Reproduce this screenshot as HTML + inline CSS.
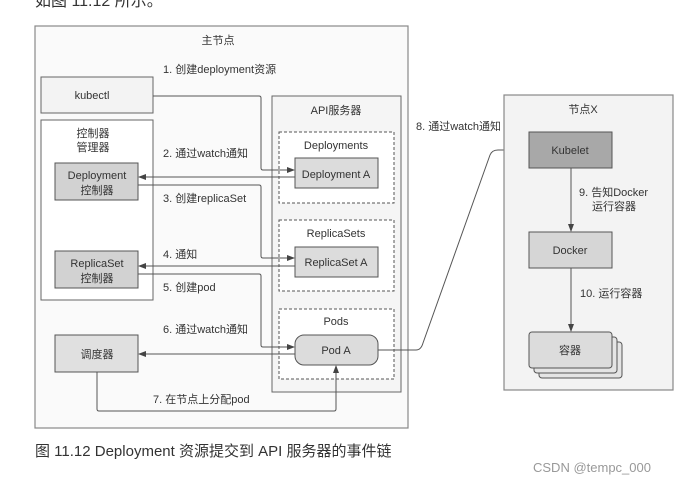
<!DOCTYPE html>
<html><head><meta charset="utf-8"><style>
html,body{margin:0;padding:0;background:#fff}
svg{display:block}
text{font-family:"Liberation Sans","Noto Sans CJK SC",sans-serif;fill:#333}
</style></head><body>
<svg width="678" height="484" viewBox="0 0 678 484" xmlns="http://www.w3.org/2000/svg">
<defs><marker id="a" markerWidth="8" markerHeight="6" refX="7" refY="3" orient="auto" markerUnits="userSpaceOnUse"><path d="M0,0 L8,3 L0,6 z" fill="#444"/></marker></defs>
<text x="35" y="6" font-size="16" font-family="Liberation Serif,Noto Serif CJK SC,serif">如图 11.12 所示。</text>
<rect x="35" y="26" width="373" height="402" fill="#fafafa" stroke="#888" stroke-width="1.2"/>
<text x="218" y="44" font-size="11" text-anchor="middle">主节点</text>
<text x="163" y="73" font-size="11">1. 创建deployment资源</text>
<rect x="41" y="77" width="112" height="36" fill="#f3f3f3" stroke="#666"/>
<text x="92" y="99" font-size="11" text-anchor="middle">kubectl</text>
<rect x="41" y="120" width="112" height="180" fill="#fff" stroke="#666"/>
<text x="93" y="137" font-size="11" text-anchor="middle">控制器</text>
<text x="93" y="151" font-size="11" text-anchor="middle">管理器</text>
<rect x="55" y="163" width="83" height="37" fill="#d2d2d2" stroke="#555"/>
<text x="97" y="179" font-size="11" text-anchor="middle">Deployment</text>
<text x="97" y="194" font-size="11" text-anchor="middle">控制器</text>
<rect x="55" y="251" width="83" height="37" fill="#d2d2d2" stroke="#555"/>
<text x="97" y="267" font-size="11" text-anchor="middle">ReplicaSet</text>
<text x="97" y="282" font-size="11" text-anchor="middle">控制器</text>
<rect x="55" y="335" width="83" height="37" fill="#e0e0e0" stroke="#555"/>
<text x="97" y="358" font-size="11" text-anchor="middle">调度器</text>
<rect x="272" y="96" width="129" height="296" fill="#f5f5f5" stroke="#666"/>
<text x="336" y="114" font-size="11" text-anchor="middle">API服务器</text>
<rect x="279" y="132" width="115" height="71" fill="#fff" stroke="#555" stroke-dasharray="3,2"/>
<text x="336" y="149" font-size="11" text-anchor="middle">Deployments</text>
<rect x="295" y="158" width="83" height="30" fill="#dcdcdc" stroke="#555"/>
<text x="336" y="178" font-size="11" text-anchor="middle">Deployment A</text>
<rect x="279" y="220" width="115" height="71" fill="#fff" stroke="#555" stroke-dasharray="3,2"/>
<text x="336" y="237" font-size="11" text-anchor="middle">ReplicaSets</text>
<rect x="295" y="247" width="83" height="30" fill="#dcdcdc" stroke="#555"/>
<text x="336" y="266" font-size="11" text-anchor="middle">ReplicaSet A</text>
<rect x="279" y="309" width="115" height="70" fill="#fff" stroke="#555" stroke-dasharray="3,2"/>
<text x="336" y="325" font-size="11" text-anchor="middle">Pods</text>
<rect x="295" y="335" width="83" height="30" rx="9" fill="#dcdcdc" stroke="#555"/>
<text x="336" y="354" font-size="11" text-anchor="middle">Pod A</text>
<g fill="none" stroke="#555" stroke-width="1">
<path d="M153,96 H259 Q261,96 261,98 V168 Q261,170 263,170 H294" marker-end="url(#a)"/>
<path d="M295,177 H139" marker-end="url(#a)"/>
<path d="M138,185 H259 Q261,185 261,187 V256 Q261,258 263,258 H294" marker-end="url(#a)"/>
<path d="M295,266 H139" marker-end="url(#a)"/>
<path d="M138,274 H259 Q261,274 261,276 V345 Q261,347 263,347 H294" marker-end="url(#a)"/>
<path d="M295,354 H139" marker-end="url(#a)"/>
<path d="M97,372 V409 Q97,411 99,411 H334 Q336,411 336,409 V366" marker-end="url(#a)"/>
<path d="M378,350 H416 Q421,350 423,343 L490,155 Q492,150 498,150 H528" marker-end="url(#a)"/>
</g>
<text x="163" y="157" font-size="11">2. 通过watch通知</text>
<text x="163" y="202" font-size="11">3. 创建replicaSet</text>
<text x="163" y="258" font-size="11">4. 通知</text>
<text x="163" y="291" font-size="11">5. 创建pod</text>
<text x="163" y="333" font-size="11">6. 通过watch通知</text>
<text x="153" y="403" font-size="11">7. 在节点上分配pod</text>
<text x="416" y="130" font-size="11">8. 通过watch通知</text>
<rect x="504" y="95" width="169" height="295" fill="#f3f3f3" stroke="#888" stroke-width="1.2"/>
<text x="583" y="113" font-size="11" text-anchor="middle">节点X</text>
<rect x="529" y="132" width="83" height="36" fill="#a8a8a8" stroke="#555"/>
<text x="570" y="154" font-size="11" text-anchor="middle">Kubelet</text>
<rect x="529" y="232" width="83" height="36" fill="#d6d6d6" stroke="#555"/>
<text x="570" y="254" font-size="11" text-anchor="middle">Docker</text>
<g fill="none" stroke="#555"><path d="M571,168 V231" marker-end="url(#a)"/><path d="M571,268 V331" marker-end="url(#a)"/></g>
<text x="579" y="196" font-size="11">9. 告知Docker</text>
<text x="592" y="210" font-size="11">运行容器</text>
<text x="580" y="297" font-size="11">10. 运行容器</text>
<rect x="539" y="342" width="83" height="36" rx="3" fill="#e4e4e4" stroke="#555"/>
<rect x="534" y="337" width="83" height="36" rx="3" fill="#e4e4e4" stroke="#555"/>
<rect x="529" y="332" width="83" height="36" rx="3" fill="#dcdcdc" stroke="#555"/>
<text x="570" y="354" font-size="11" text-anchor="middle">容器</text>
<text x="35" y="456" font-size="15">图 11.12   Deployment 资源提交到 API 服务器的事件链</text>
<text x="533" y="472" font-size="13" fill="#999" style="fill:#999">CSDN @tempc_000</text>
</svg>
</body></html>
